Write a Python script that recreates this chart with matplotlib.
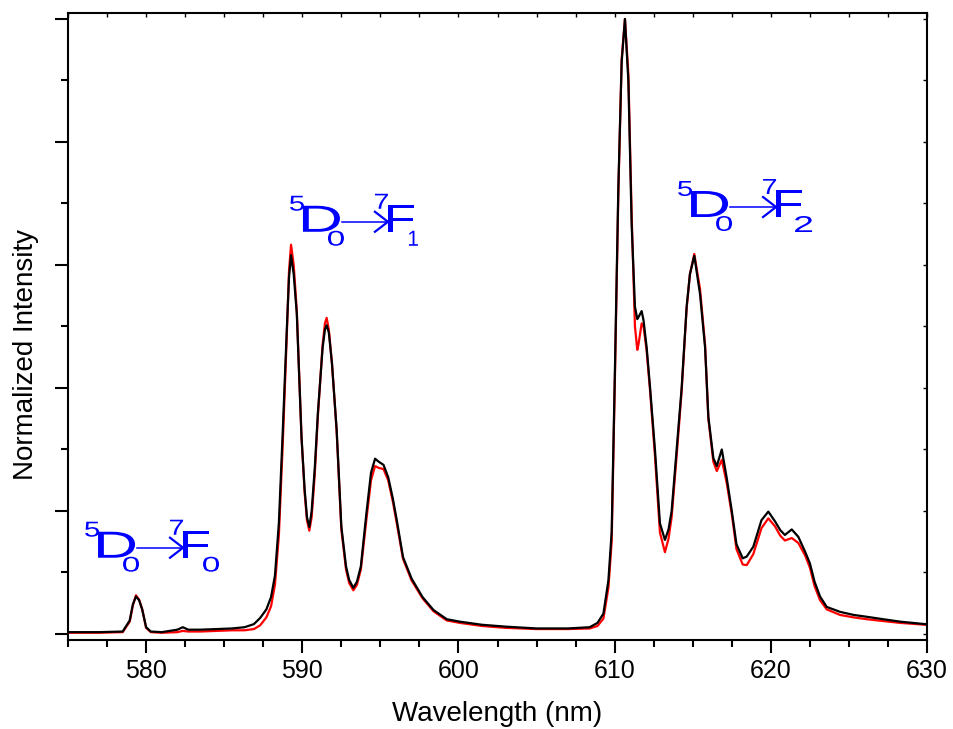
import matplotlib
matplotlib.use("Agg")
import matplotlib.pyplot as plt
from matplotlib.ticker import MultipleLocator, NullFormatter
from matplotlib.textpath import TextPath
from matplotlib.font_manager import FontProperties
from matplotlib.patches import PathPatch
from matplotlib.transforms import Affine2D, IdentityTransform
from matplotlib.lines import Line2D

# emission spectrum (normalized)
wavelength = [575.0, 577.0, 578.5, 578.95, 579.15, 579.35, 579.55, 579.75, 580.0, 580.3,
              581.0, 582.0, 582.35, 582.7, 583.5, 584.5, 585.5, 586.3, 586.9, 587.3,
              587.7, 588.0, 588.25, 588.5, 588.75, 589.0, 589.15, 589.28, 589.45, 589.65,
              589.95, 590.15, 590.3, 590.45, 590.6, 590.8, 591.0, 591.3, 591.45, 591.56,
              591.7, 591.9, 592.2, 592.5, 592.8, 593.0, 593.27, 593.5, 593.75, 594.1,
              594.4, 594.66, 594.9, 595.2, 595.5, 595.8, 596.05, 596.45, 597.0, 597.7,
              598.4, 599.25, 600.1, 601.5, 603.0, 605.0, 607.0, 608.4, 608.9, 609.28,
              609.6, 609.81, 610.02, 610.24, 610.45, 610.66, 610.88, 611.09, 611.3, 611.45,
              611.52, 611.73, 611.85, 612.05, 612.27, 612.58, 612.9, 613.22, 613.45, 613.65,
              613.97, 614.29, 614.61, 614.82, 615.1, 615.47, 615.79, 616.0, 616.32, 616.54,
              616.86, 617.18, 617.5, 617.8, 618.2, 618.46, 618.88, 619.4, 619.84, 620.27,
              620.6, 620.9, 621.34, 621.76, 622.19, 622.5, 622.8, 623.15, 623.58, 624.43,
              625.3, 626.14, 627.2, 628.3, 629.9, 630.0]

black = [0.003, 0.003, 0.004, 0.022, 0.048, 0.061, 0.055, 0.040, 0.011, 0.004,
         0.003, 0.007, 0.011, 0.007, 0.007, 0.008, 0.009, 0.011, 0.016, 0.026,
         0.040, 0.060, 0.095, 0.18, 0.33, 0.49, 0.58, 0.616, 0.585, 0.52,
         0.32, 0.235, 0.19, 0.174, 0.20, 0.27, 0.36, 0.465, 0.495, 0.502,
         0.49, 0.44, 0.332, 0.175, 0.11, 0.088, 0.075, 0.085, 0.11, 0.195,
         0.262, 0.285, 0.28, 0.275, 0.255, 0.22, 0.185, 0.125, 0.09, 0.06,
         0.039, 0.024, 0.02, 0.015, 0.012, 0.009, 0.009, 0.011, 0.018, 0.033,
         0.087, 0.166, 0.432, 0.73, 0.93, 1.0, 0.898, 0.665, 0.532, 0.512,
         0.515, 0.525, 0.51, 0.466, 0.40, 0.30, 0.18, 0.153, 0.17, 0.20,
         0.30, 0.40, 0.532, 0.585, 0.615, 0.552, 0.466, 0.353, 0.286, 0.273,
         0.30, 0.253, 0.20, 0.146, 0.123, 0.126, 0.142, 0.185, 0.199, 0.183,
         0.169, 0.161, 0.17, 0.158, 0.134, 0.115, 0.085, 0.061, 0.044, 0.036,
         0.031, 0.028, 0.024, 0.02, 0.016, 0.016]

red = [0.002, 0.002, 0.003, 0.020, 0.046, 0.063, 0.056, 0.040, 0.010, 0.003,
       0.002, 0.003, 0.005, 0.004, 0.004, 0.005, 0.006, 0.006, 0.008, 0.014,
       0.027, 0.045, 0.080, 0.16, 0.31, 0.48, 0.59, 0.633, 0.60, 0.525,
       0.32, 0.23, 0.185, 0.168, 0.19, 0.26, 0.355, 0.47, 0.505, 0.514,
       0.495, 0.44, 0.33, 0.17, 0.105, 0.083, 0.071, 0.08, 0.105, 0.185,
       0.25, 0.273, 0.27, 0.268, 0.25, 0.215, 0.18, 0.122, 0.087, 0.058,
       0.037, 0.022, 0.018, 0.013, 0.01, 0.008, 0.008, 0.009, 0.013, 0.025,
       0.075, 0.15, 0.42, 0.72, 0.935, 1.0, 0.91, 0.68, 0.50, 0.462,
       0.47, 0.505, 0.50, 0.46, 0.395, 0.29, 0.165, 0.133, 0.155, 0.19,
       0.29, 0.395, 0.53, 0.585, 0.618, 0.56, 0.47, 0.35, 0.28, 0.265,
       0.283, 0.245, 0.195, 0.138, 0.113, 0.112, 0.13, 0.172, 0.188, 0.175,
       0.16, 0.152, 0.156, 0.148, 0.128, 0.108, 0.078, 0.055, 0.04, 0.031,
       0.027, 0.024, 0.021, 0.018, 0.015, 0.015]

# transition labels 5D0 -> 7FJ, anchored at the baseline left of the "5"
final_j = ['0', '1', '2']
label_x = [576.09, 589.21, 614.06]
label_y = [0.124, 0.654, 0.678]

BLUE = '#0000ff'
plt.rcParams['font.family'] = ['Liberation Sans', 'DejaVu Sans']

fig = plt.figure(figsize=(9.54, 7.29), dpi=100)
ax = fig.add_axes([0.0713, 0.1221, 0.9004, 0.8601])

ax.plot(wavelength, red, color='#ff0000', lw=1.6)
ax.plot(wavelength, black, color='black', lw=1.6)

ax.set_xlim(575, 630)
ax.set_ylim(-0.00976, 1.00976)

ax.xaxis.set_major_locator(MultipleLocator(10))
ax.xaxis.set_minor_locator(MultipleLocator(2.5))
ax.yaxis.set_major_locator(MultipleLocator(0.2))
ax.yaxis.set_minor_locator(MultipleLocator(0.1))
ax.yaxis.set_major_formatter(NullFormatter())

for s in ax.spines.values():
    s.set_linewidth(1.5)

ax.tick_params(axis='x', which='major', direction='out', length=9.5, width=1.5,
               labelsize=18, pad=4, top=False)
ax.tick_params(axis='x', which='minor', direction='out', length=5, width=1.5, top=False)
ax.tick_params(axis='y', which='major', direction='out', length=9.5, width=1.5, right=False)
ax.tick_params(axis='y', which='minor', direction='out', length=5, width=1.5, right=False)

# inward ticks on the top and right edges
top = ax.secondary_xaxis('top')
top.xaxis.set_major_locator(MultipleLocator(2.5))
top.tick_params(direction='in', length=3, width=1, labeltop=False)
top.spines['top'].set_visible(False)
right = ax.secondary_yaxis('right')
right.yaxis.set_major_locator(MultipleLocator(0.1))
right.tick_params(direction='in', length=3, width=1, labelright=False)
right.spines['right'].set_visible(False)

ax.set_xlabel('Wavelength (nm)', fontsize=20)
ax.set_ylabel('Normalized Intensity', fontsize=20)
ax.xaxis.set_label_coords(0.5, -0.097)
ax.yaxis.set_label_coords(-0.034, 0.455)

# the reference draws these labels in a wide, stretched face:
# each glyph is fitted into a box (left, bottom, width, height) in pixels
fp = FontProperties(family='Liberation Sans')


def glyph(ch, box, px, py):
    tp = TextPath((0, 0), ch, size=100, prop=fp)
    ext = tp.get_extents()
    l, b, w, h = box
    tr = (Affine2D().translate(-ext.x0, -ext.y0)
          .scale(w / ext.width, h / ext.height)
          .translate(px + l, py + b))
    fig.add_artist(PathPatch(tp, transform=tr, facecolor=BLUE, lw=0))


sub_box = {'0': (118, -14, 16, 15), '1': (119, -14, 9, 15), '2': (117, -15, 17, 16)}

for j, x, y in zip(final_j, label_x, label_y):
    px, py = ax.transData.transform((x, y))
    glyph('5', (0, 21, 14, 15), px, py)
    glyph('D', (13, 0, 37, 26), px, py)
    glyph('0', (38, -14, 16, 15), px, py)
    glyph('F', (98, 0, 26, 27), px, py)
    glyph(j, sub_box[j], px, py)
    fig.add_artist(Line2D([px + 52, px + 97], [py + 10, py + 10], color=BLUE, lw=1.1,
                          transform=IdentityTransform()))
    fig.add_artist(Line2D([px + 85, px + 98, px + 85], [py + 20, py + 10, py + 0],
                          color=BLUE, lw=1.6, transform=IdentityTransform()))
    glyph('7', (85, 23, 13, 15), px, py)

fig.savefig('out.png', dpi=100)
